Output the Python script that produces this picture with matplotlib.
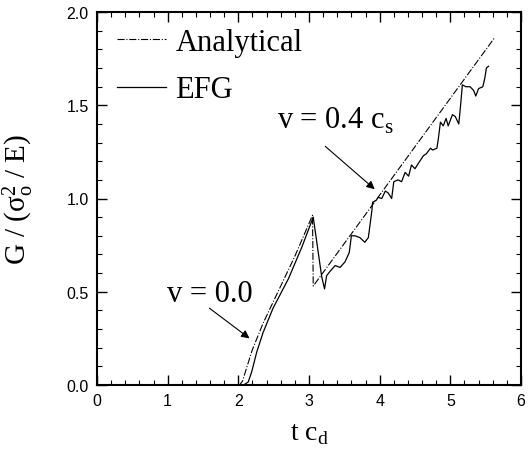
import numpy as np
import matplotlib.pyplot as plt

plt.rcParams['font.family'] = 'Liberation Serif'

# Analytical solution
t_ana = [0.0, 2.02, 2.06, 2.1, 2.2, 2.35, 2.6, 2.8, 3.05, 3.06, 5.62]
g_ana = [0.0, 0.0, 0.02, 0.07, 0.19, 0.33, 0.53, 0.69, 0.91, 0.53, 1.86]

# EFG result
t_efg = [0.0, 2.08, 2.14, 2.19, 2.26, 2.35, 2.49, 2.71, 2.9, 3.06,
         3.18, 3.22, 3.25, 3.30, 3.37, 3.44, 3.51, 3.57, 3.60, 3.65,
         3.72, 3.79, 3.84, 3.89, 3.90, 3.95, 3.98, 4.03, 4.08, 4.12,
         4.17, 4.20, 4.26, 4.31, 4.36, 4.41, 4.45, 4.50, 4.55, 4.62,
         4.66, 4.72, 4.75, 4.81, 4.83, 4.86, 4.90, 4.94, 4.97, 5.03,
         5.07, 5.12, 5.15, 5.17, 5.22, 5.28, 5.33, 5.36, 5.40, 5.46,
         5.49, 5.51, 5.54]
g_efg = [0.0, 0.0, 0.015, 0.07, 0.175, 0.28, 0.41, 0.57, 0.74, 0.90,
         0.58, 0.515, 0.586, 0.61, 0.64, 0.63, 0.66, 0.71, 0.80, 0.80,
         0.79, 0.765, 0.79, 0.935, 0.98, 0.99, 1.006, 1.00, 1.04, 1.03,
         1.00, 1.09, 1.10, 1.09, 1.14, 1.12, 1.18, 1.16, 1.19, 1.23,
         1.24, 1.27, 1.26, 1.27, 1.32, 1.41, 1.39, 1.43, 1.39, 1.45,
         1.44, 1.40, 1.52, 1.61, 1.60, 1.60, 1.58, 1.55, 1.59, 1.60,
         1.65, 1.70, 1.71]

fig = plt.figure(figsize=(5.3, 4.56), dpi=100)
ax = fig.add_axes([0.183, 0.154, 0.800, 0.817])

ax.plot(t_ana, g_ana, color='black', linestyle='-.', lw=0.8, label='Analytical')
ax.plot(t_efg, g_efg, color='black', linestyle='-', lw=0.9, label='EFG')

ax.set_xlim(0, 6)
ax.set_ylim(0, 2)
ax.set_xticks(np.arange(0, 7, 1))
ax.set_xticks(np.arange(0, 6.01, 0.2), minor=True)
ax.set_yticks(np.arange(0, 2.01, 0.5))
ax.set_yticks(np.arange(0, 2.01, 0.1), minor=True)
ax.set_yticklabels(['0.0', '0.5', '1.0', '1.5', '2.0'])
ax.tick_params(which='both', direction='in', top=True, right=True,
               labelsize=11.5, pad=6)
ax.tick_params(which='major', length=7, width=1)
ax.tick_params(which='minor', length=3.5, width=0.8)
for lbl in ax.get_xticklabels() + ax.get_yticklabels():
    lbl.set_family('Liberation Sans')
for s in ax.spines.values():
    s.set_linewidth(1.5)

ax.set_xlabel(r't c$_\mathregular{d}$', fontsize=20, labelpad=9)
ax.set_ylabel(r'G / ($\mathregular{\sigma_o^2}$ / E)', fontsize=21, labelpad=22)

ax.legend(loc='upper left', bbox_to_anchor=(0.012, 1.0), frameon=False,
          fontsize=22, handlelength=1.6, handletextpad=0.3,
          labelspacing=0.62, borderaxespad=0.1)

arrow = dict(arrowstyle='-|>', color='black', lw=0.8, mutation_scale=12)
ax.annotate('', xy=(2.19, 0.24), xytext=(1.56, 0.42), arrowprops=arrow)
ax.text(0.99, 0.45, 'v = 0.0', fontsize=22, ha='left', va='baseline')
ax.annotate('', xy=(3.96, 1.04), xytext=(3.20, 1.29), arrowprops=arrow)
ax.text(2.55, 1.38, r'v = 0.4 c$_\mathregular{s}$', fontsize=22, ha='left', va='baseline')

fig.savefig('out.png', dpi=100)
